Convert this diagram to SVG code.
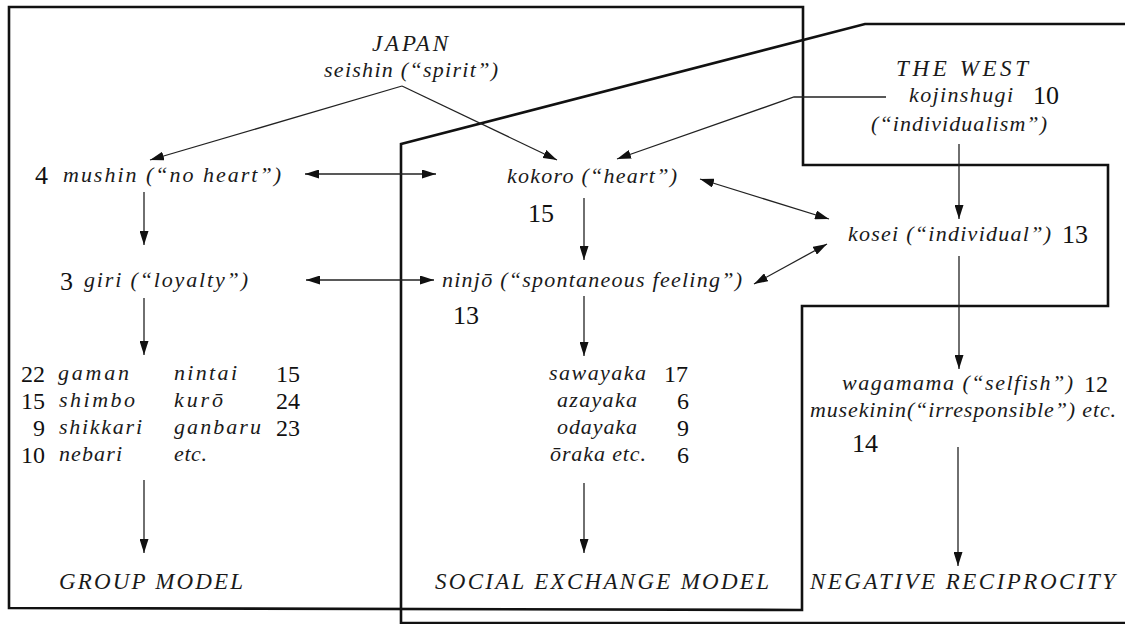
<svg xmlns="http://www.w3.org/2000/svg" width="1125" height="624" viewBox="0 0 1125 624">
<style>
.t{font-family:"Liberation Serif","Times New Roman",serif;font-style:italic;font-size:22px;fill:#1a1a1a}
.c{font-family:"Liberation Serif","Times New Roman",serif;font-style:italic;font-size:23px;fill:#1a1a1a}
.n{font-family:"Liberation Serif","Times New Roman",serif;font-size:26px;fill:#111}
.m{font-family:"Liberation Serif","Times New Roman",serif;font-size:24px;fill:#111}
.box{fill:none;stroke:#111;stroke-width:2.6;stroke-linejoin:miter}
.ar{fill:none;stroke:#222;stroke-width:1.3}
</style>
<defs>
<marker id="ah" viewBox="0 0 14 9" refX="14" refY="4.5" markerWidth="14" markerHeight="9" orient="auto-start-reverse" markerUnits="userSpaceOnUse"><path d="M0,0 L14,4.5 L0,9 z" fill="#111"/></marker>
</defs>
<rect width="1125" height="624" fill="#fff"/>
<g id="regions">
<path class="box" d="M9,7 L803,7 L803,165 L1108,165 L1108,306 L802,306 L802,610 L9,608 Z"/>
<path class="box" d="M1125,24 L865,24 L401,144 L401,623 L1125,623"/>
</g>
<g id="connectors">
<line class="ar" x1="402" y1="86" x2="150" y2="160" marker-end="url(#ah)"/>
<line class="ar" x1="402" y1="86" x2="557" y2="160" marker-end="url(#ah)"/>
<line class="ar" x1="305" y1="174" x2="436" y2="174" marker-start="url(#ah)" marker-end="url(#ah)"/>
<line class="ar" x1="144" y1="192" x2="144" y2="245" marker-end="url(#ah)"/>
<line class="ar" x1="306" y1="280" x2="434" y2="280" marker-start="url(#ah)" marker-end="url(#ah)"/>
<line class="ar" x1="144" y1="298" x2="144" y2="355" marker-end="url(#ah)"/>
<line class="ar" x1="144" y1="480" x2="144" y2="553" marker-end="url(#ah)"/>
<path class="ar" d="M886,97 L794,97 L617,159" marker-end="url(#ah)"/>
<line class="ar" x1="700" y1="179" x2="829" y2="219" marker-start="url(#ah)" marker-end="url(#ah)"/>
<line class="ar" x1="754" y1="284" x2="827" y2="244" marker-start="url(#ah)" marker-end="url(#ah)"/>
<line class="ar" x1="959" y1="144" x2="959" y2="219" marker-end="url(#ah)"/>
<line class="ar" x1="584" y1="198" x2="584" y2="260" marker-end="url(#ah)"/>
<line class="ar" x1="959" y1="256" x2="959" y2="369" marker-end="url(#ah)"/>
<line class="ar" x1="584" y1="296" x2="584" y2="356" marker-end="url(#ah)"/>
<line class="ar" x1="584" y1="483" x2="584" y2="553" marker-end="url(#ah)"/>
<line class="ar" x1="958" y1="447" x2="958" y2="566" marker-end="url(#ah)"/>
</g>
<g id="japan">
<text class="c" x="372" y="51" textLength="76">JAPAN</text>
<text class="t" x="324" y="77" textLength="174">seishin (“spirit”)</text>
</g>
<g id="mushin">
<text class="n" x="35" y="184">4</text>
<text class="t" x="63" y="182" textLength="218">mushin (“no heart”)</text>
</g>
<g id="kokoro">
<text class="t" x="507" y="183" textLength="170">kokoro (“heart”)</text>
<text class="n" x="528" y="222">15</text>
</g>
<g id="west">
<text class="c" x="896" y="76" textLength="132">THE WEST</text>
<text class="t" x="909" y="102" textLength="104">kojinshugi</text>
<text class="n" x="1033" y="104">10</text>
<text class="t" x="871" y="131" textLength="176">(“individualism”)</text>
</g>
<g id="kosei">
<text class="t" x="848" y="241" textLength="203">kosei (“individual”)</text>
<text class="n" x="1062" y="243">13</text>
</g>
<g id="giri">
<text class="n" x="60" y="290">3</text>
<text class="t" x="84" y="287" textLength="164">giri (“loyalty”)</text>
</g>
<g id="ninjo">
<text class="t" x="442" y="287" textLength="300">ninjō (“spontaneous feeling”)</text>
<text class="n" x="453" y="324">13</text>
</g>
<g id="group-terms">
<text class="m" x="21" y="382">22</text><text class="t" x="58" y="380" textLength="71">gaman</text><text class="t" x="174" y="380" textLength="63">nintai</text><text class="m" x="276" y="382">15</text>
<text class="m" x="21" y="409">15</text><text class="t" x="59" y="407" textLength="76">shimbo</text><text class="t" x="174" y="407" textLength="49">kurō</text><text class="m" x="276" y="409">24</text>
<text class="m" x="33" y="436">9</text><text class="t" x="59" y="434" textLength="83">shikkari</text><text class="t" x="174" y="434" textLength="87">ganbaru</text><text class="m" x="276" y="436">23</text>
<text class="m" x="21" y="463">10</text><text class="t" x="59" y="461" textLength="63">nebari</text><text class="t" x="174" y="461" textLength="33">etc.</text>
</g>
<g id="exchange-terms">
<text class="t" x="549" y="380" textLength="97">sawayaka</text><text class="m" x="664" y="382">17</text>
<text class="t" x="557" y="407" textLength="80">azayaka</text><text class="m" x="677" y="409">6</text>
<text class="t" x="557" y="434" textLength="80">odayaka</text><text class="m" x="677" y="436">9</text>
<text class="t" x="550" y="461" textLength="96">ōraka etc.</text><text class="m" x="677" y="463">6</text>
</g>
<g id="west-terms">
<text class="t" x="842" y="390" textLength="231">wagamama (“selfish”)</text><text class="m" x="1084" y="392">12</text>
<text class="t" x="810" y="417" textLength="306">musekinin(“irresponsible”) etc.</text>
<text class="n" x="852" y="452">14</text>
</g>
<g id="group-model"><text class="c" x="59" y="589" textLength="184">GROUP MODEL</text></g>
<g id="exchange-model"><text class="c" x="435" y="589" textLength="334">SOCIAL EXCHANGE MODEL</text></g>
<g id="negative-reciprocity"><text class="c" x="810" y="589" textLength="305">NEGATIVE RECIPROCITY</text></g>
</svg>
